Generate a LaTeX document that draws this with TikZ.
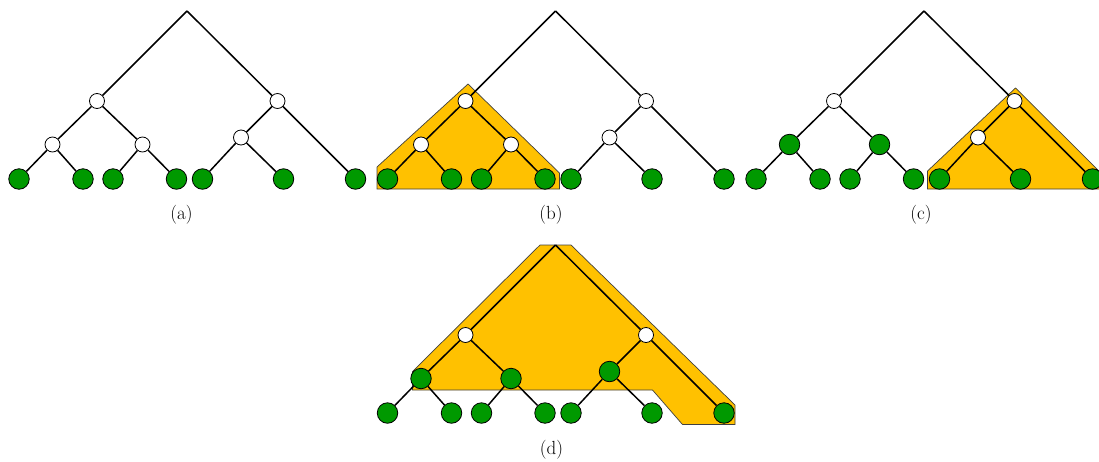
\documentclass[tikz,border=0pt]{standalone}
\definecolor{leafgreen}{HTML}{009900}
\definecolor{hiorange}{HTML}{FFC100}
\tikzset{
  edge/.style={line width=1.5pt, black},
  wnode/.style={circle, draw=black, fill=white, line width=0.8pt, minimum size=15pt, inner sep=0pt},
  gnode/.style={circle, draw=black, fill=leafgreen, line width=0.8pt, minimum size=20.5pt, inner sep=0pt},
  hilite/.style={fill=hiorange, draw=black!75, line width=0.7pt},
  sublabel/.style={font=\fontsize{19}{23}\selectfont, inner sep=0pt}
}
\newcommand{\mytree}[6]{%
\begin{scope}[shift={(#2,#3)}]
  \coordinate (#1R) at (187,11);
  \node[wnode] (#1A) at (97,101) {};
  \node[wnode] (#1B) at (277.5,101) {};
  \node[#4] (#1C) at (52.5,144.5) {};
  \node[#5] (#1D) at (142.5,144.5) {};
  \node[#6] (#1E) at (241,137.5) {};
  \node[gnode] (#1L1) at (19,179) {};
  \node[gnode] (#1L2) at (83,179) {};
  \node[gnode] (#1L3) at (113,179) {};
  \node[gnode] (#1L4) at (176.5,179) {};
  \node[gnode] (#1L5) at (202.5,179) {};
  \node[gnode] (#1L6) at (283.5,179) {};
  \node[gnode] (#1L7) at (355.5,179) {};
  \draw[edge] (#1R) -- (#1A);
  \draw[edge] (#1R) -- (#1B);
  \draw[edge] (#1A) -- (#1C);
  \draw[edge] (#1A) -- (#1D);
  \draw[edge] (#1B) -- (#1E);
  \draw[edge] (#1B) -- (#1L7);
  \draw[edge] (#1C) -- (#1L1);
  \draw[edge] (#1C) -- (#1L2);
  \draw[edge] (#1D) -- (#1L3);
  \draw[edge] (#1D) -- (#1L4);
  \draw[edge] (#1E) -- (#1L5);
  \draw[edge] (#1E) -- (#1L6);
\end{scope}}
\begin{document}
\begin{tikzpicture}[x=1pt,y=-1pt]
  \useasboundingbox (0,0) rectangle (1099,461);
  % highlighted regions
  \path[hilite] (377,189) -- (377,167) -- (468,84) -- (559.5,173) -- (559.5,189) -- cycle;
  \path[hilite] (927.5,189) -- (927.5,171) -- (1015.5,88) -- (1106,178) -- (1106,189) -- cycle;
  \path[hilite] (540,245) -- (571,245) -- (735,405) -- (735,424.5) -- (682.5,424.5)
        -- (652.5,390) -- (412.5,390) -- (412.5,371.5) -- cycle;
  % trees
  \mytree{a}{0}{0}{wnode}{wnode}{wnode}
  \mytree{b}{368.5}{0}{wnode}{wnode}{wnode}
  \mytree{c}{737}{0}{gnode}{gnode}{wnode}
  \mytree{d}{368.5}{234}{gnode}{gnode}{gnode}
  % labels
  \node[sublabel] (la) at (181.5,215) {(a)};
  \node[sublabel] (lb) at (551,215) {(b)};
  \node[sublabel] (lc) at (921,215) {(c)};
  \node[sublabel] (ld) at (551.5,450) {(d)};
\end{tikzpicture}
\end{document}
